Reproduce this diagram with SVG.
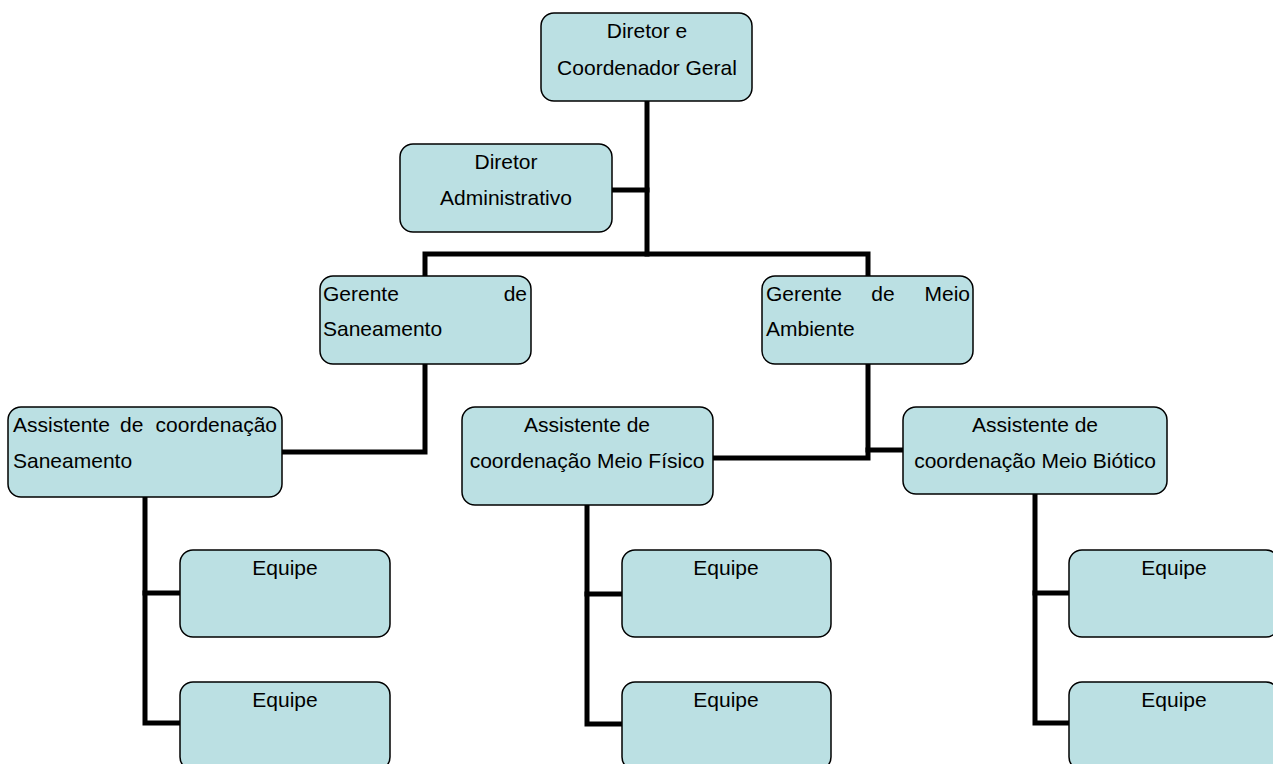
<svg xmlns="http://www.w3.org/2000/svg" width="1273" height="764" viewBox="0 0 1273 764">
<style>
.box{fill:#BBE0E3;stroke:#000;stroke-width:1.5}
.t{font-family:"Liberation Sans",Arial,sans-serif;font-size:21px;fill:#000}
.c{text-anchor:middle}
.e{text-anchor:end}
.ln{fill:none;stroke:#000;stroke-width:5;stroke-linejoin:miter;stroke-linecap:square}
</style>
<rect width="1273" height="764" fill="#fff"/>
<g id="connectors">
<path class="ln" d="M647 101 V254"/>
<path class="ln" d="M612 190 H647"/>
<path class="ln" d="M425 276 V254 H868 V276"/>
<path class="ln" d="M425 364 V452 H282"/>
<path class="ln" d="M868 364 V458 H713"/>
<path class="ln" d="M868 450 H903"/>
<path class="ln" d="M145 497 V723 H180"/>
<path class="ln" d="M145 593 H180"/>
<path class="ln" d="M587 505 V724 H622"/>
<path class="ln" d="M587 594 H622"/>
<path class="ln" d="M1035 494 V723 H1069"/>
<path class="ln" d="M1035 593 H1069"/>
</g>
<g id="diretor-geral">
<rect class="box" x="541" y="13" width="211" height="88" rx="13"/>
<text class="t c" x="647" y="38">Diretor e</text>
<text class="t c" x="647" y="75">Coordenador Geral</text>
</g>
<g id="diretor-adm">
<rect class="box" x="400" y="144" width="212" height="88" rx="13"/>
<text class="t c" x="506" y="169">Diretor</text>
<text class="t c" x="506" y="205">Administrativo</text>
</g>
<g id="gerente-saneamento">
<rect class="box" x="320" y="276" width="211" height="88" rx="13"/>
<text class="t" x="323" y="301">Gerente</text>
<text class="t e" x="527" y="301">de</text>
<text class="t" x="323" y="336">Saneamento</text>
</g>
<g id="gerente-meio-ambiente">
<rect class="box" x="762" y="276" width="211" height="88" rx="13"/>
<text class="t" x="766" y="301">Gerente</text>
<text class="t c" x="883" y="301">de</text>
<text class="t e" x="970" y="301">Meio</text>
<text class="t" x="766" y="336">Ambiente</text>
</g>
<g id="assistente-saneamento">
<rect class="box" x="8" y="407" width="274" height="90" rx="13"/>
<text class="t" x="13" y="432">Assistente</text>
<text class="t" x="120" y="432">de</text>
<text class="t e" x="277" y="432">coordenação</text>
<text class="t" x="13" y="468">Saneamento</text>
</g>
<g id="assistente-fisico">
<rect class="box" x="462" y="407" width="251" height="98" rx="13"/>
<text class="t c" x="587" y="432">Assistente de</text>
<text class="t c" x="587" y="468">coordenação Meio Físico</text>
</g>
<g id="assistente-biotico">
<rect class="box" x="903" y="407" width="264" height="87" rx="13"/>
<text class="t c" x="1035" y="432">Assistente de</text>
<text class="t c" x="1035" y="468">coordenação Meio Biótico</text>
</g>
<g id="equipe-1a">
<rect class="box" x="180" y="550" width="210" height="87" rx="13"/>
<text class="t c" x="285" y="575">Equipe</text>
</g>
<g id="equipe-1b">
<rect class="box" x="180" y="682" width="210" height="88" rx="13"/>
<text class="t c" x="285" y="707">Equipe</text>
</g>
<g id="equipe-2a">
<rect class="box" x="622" y="550" width="209" height="87" rx="13"/>
<text class="t c" x="726" y="575">Equipe</text>
</g>
<g id="equipe-2b">
<rect class="box" x="622" y="682" width="209" height="88" rx="13"/>
<text class="t c" x="726" y="707">Equipe</text>
</g>
<g id="equipe-3a">
<rect class="box" x="1069" y="550" width="210" height="87" rx="13"/>
<text class="t c" x="1174" y="575">Equipe</text>
</g>
<g id="equipe-3b">
<rect class="box" x="1069" y="682" width="210" height="88" rx="13"/>
<text class="t c" x="1174" y="707">Equipe</text>
</g>
</svg>
